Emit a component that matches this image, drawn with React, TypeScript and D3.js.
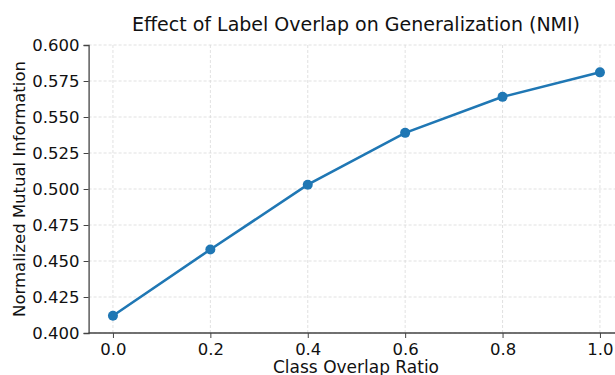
import { useEffect, useRef } from 'react';
import * as d3 from 'd3';

const overlapRatios = [0.0, 0.2, 0.4, 0.6, 0.8, 1.0];
const nmiValues = [0.412, 0.458, 0.503, 0.539, 0.564, 0.581];
const xTicks = [0.0, 0.2, 0.4, 0.6, 0.8, 1.0];
const yTicks = [0.4, 0.425, 0.45, 0.475, 0.5, 0.525, 0.55, 0.575, 0.6];

const width = 615;
const height = 375;
const font = "'DejaVu Sans', sans-serif";

export default function App() {
  const svgRef = useRef<SVGSVGElement>(null);

  useEffect(() => {
    if (!svgRef.current) return;
    const svg = d3.select(svgRef.current);
    svg.selectAll('*').remove();

    // plot area (right part is cropped off in the reference)
    const left = 88.6;
    const x = d3.scaleLinear().domain([-0.05, 1.05]).range([left, left + 535.7]);
    const y = d3.scaleLinear().domain([0.4, 0.6]).range([333, 45]);

    const grid = svg.append('g');
    grid
      .selectAll('line.vx')
      .data(xTicks)
      .join('line')
      .attr('x1', (d) => x(d))
      .attr('x2', (d) => x(d))
      .attr('y1', y(0.4))
      .attr('y2', y(0.6))
      .attr('stroke', '#d9d9d9')
      .attr('stroke-width', 0.8)
      .attr('stroke-dasharray', '3,2');
    grid
      .selectAll('line.hy')
      .data(yTicks)
      .join('line')
      .attr('x1', left)
      .attr('x2', width)
      .attr('y1', (d) => y(d))
      .attr('y2', (d) => y(d))
      .attr('stroke', '#d9d9d9')
      .attr('stroke-width', 0.8)
      .attr('stroke-dasharray', '3,2');

    const xAxis = svg
      .append('g')
      .attr('transform', `translate(0,${y(0.4)})`)
      .call(
        d3
          .axisBottom(x)
          .tickValues(xTicks)
          .tickFormat(d3.format('.1f'))
          .tickSizeOuter(0)
          .tickSize(5)
          .tickPadding(5)
      );
    const yAxis = svg
      .append('g')
      .attr('transform', `translate(${left},0)`)
      .call(
        d3
          .axisLeft(y)
          .tickValues(yTicks)
          .tickFormat(d3.format('.3f'))
          .tickSizeOuter(0)
          .tickSize(5)
          .tickPadding(4)
      );

    [xAxis, yAxis].forEach((g) => {
      g.select('.domain').attr('stroke', '#444').attr('stroke-width', 1.3);
      g.selectAll('.tick line').attr('stroke', '#444').attr('stroke-width', 1);
      g.selectAll('.tick text')
        .attr('font-family', font)
        .attr('font-size', 16.5)
        .attr('fill', '#111');
    });
    xAxis.select('.domain').attr('d', `M${left},0H${width}`);

    const line = d3
      .line<number>()
      .x((_, i) => x(overlapRatios[i]))
      .y((d) => y(d));

    svg
      .append('path')
      .datum(nmiValues)
      .attr('d', line)
      .attr('fill', 'none')
      .attr('stroke', '#1f77b4')
      .attr('stroke-width', 2.6);

    svg
      .selectAll('circle.pt')
      .data(nmiValues)
      .join('circle')
      .attr('cx', (_, i) => x(overlapRatios[i]))
      .attr('cy', (d) => y(d))
      .attr('r', 5)
      .attr('fill', '#1f77b4');

    const midX = 356;

    svg
      .append('text')
      .attr('x', midX)
      .attr('y', 31)
      .attr('text-anchor', 'middle')
      .attr('font-family', font)
      .attr('font-size', 19)
      .attr('fill', '#111')
      .text('Effect of Label Overlap on Generalization (NMI)');

    svg
      .append('text')
      .attr('x', midX)
      .attr('y', 373)
      .attr('text-anchor', 'middle')
      .attr('font-family', font)
      .attr('font-size', 17)
      .attr('fill', '#111')
      .text('Class Overlap Ratio');

    svg
      .append('text')
      .attr('transform', `translate(25,${y(0.5)}) rotate(-90)`)
      .attr('text-anchor', 'middle')
      .attr('font-family', font)
      .attr('font-size', 16.5)
      .attr('fill', '#111')
      .text('Normalized Mutual Information');
  }, []);

  return (
    <div style={{ position: 'fixed', left: 0, top: 0 }}>
      <svg ref={svgRef} width={width} height={height} style={{ display: 'block', background: '#fff' }} />
    </div>
  );
}
